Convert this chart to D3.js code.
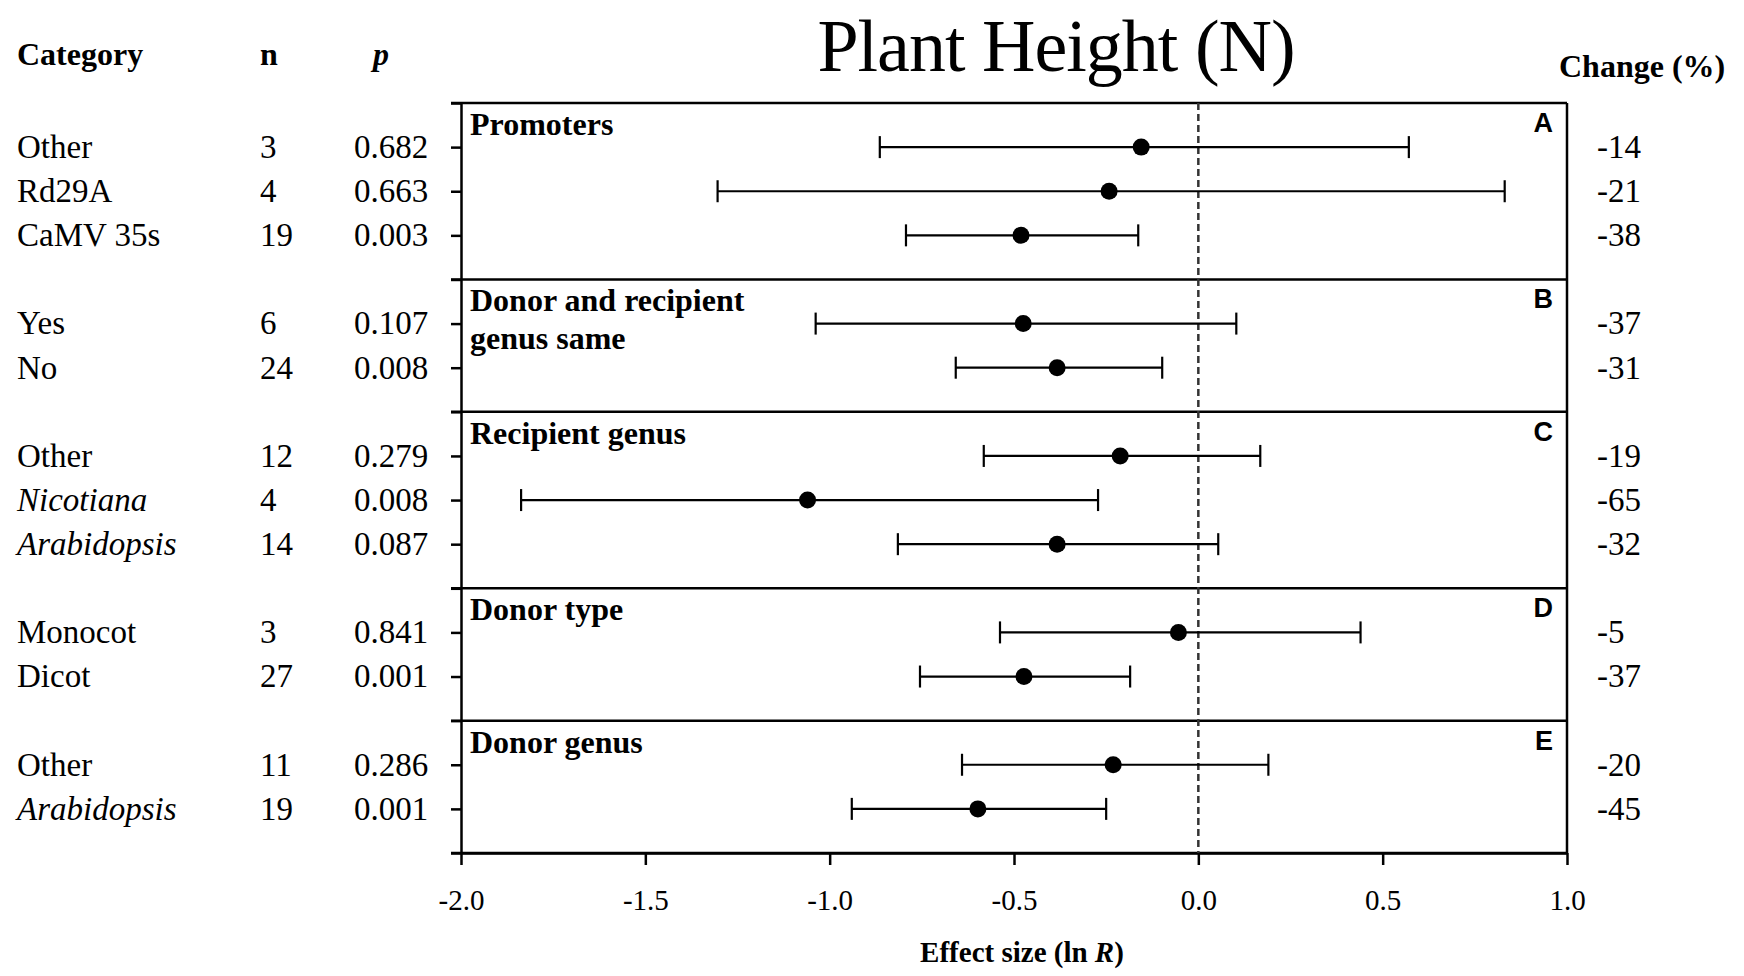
<!DOCTYPE html>
<html>
<head>
<meta charset="utf-8">
<script src="https://cdnjs.cloudflare.com/ajax/libs/d3/7.8.5/d3.min.js"></script>
<style>
  body { margin: 0; background: #fff; }
  text { font-family: "Liberation Serif", "Times New Roman", serif; fill: #000; }
</style>
</head>
<body>
<svg id="chart" width="1744" height="976"></svg>
<script>
// panels
var panelTitles = [["Promoters"], ["Donor and recipient", "genus same"], ["Recipient genus"], ["Donor type"], ["Donor genus"]];
var panelLetters = ["A", "B", "C", "D", "E"];

// rows (top to bottom)
var categories = ["Other", "Rd29A", "CaMV 35s", "Yes", "No", "Other", "Nicotiana", "Arabidopsis", "Monocot", "Dicot", "Other", "Arabidopsis"];
var italicCat = [false, false, false, false, false, false, true, true, false, false, false, true];
var panelOf = [0, 0, 0, 1, 1, 2, 2, 2, 3, 3, 4, 4];
var nValues = [3, 4, 19, 6, 24, 12, 4, 14, 3, 27, 11, 19];
var pValues = ["0.682", "0.663", "0.003", "0.107", "0.008", "0.279", "0.008", "0.087", "0.841", "0.001", "0.286", "0.001"];
var effect = [-0.155, -0.242, -0.481, -0.475, -0.383, -0.212, -1.060, -0.383, -0.054, -0.473, -0.231, -0.598];
var lower = [-0.864, -1.304, -0.793, -1.038, -0.658, -0.582, -1.837, -0.815, -0.538, -0.755, -0.641, -0.940];
var upper = [0.571, 0.831, -0.163, 0.103, -0.098, 0.168, -0.272, 0.054, 0.440, -0.185, 0.190, -0.250];
var change = [-14, -21, -38, -37, -31, -19, -65, -32, -5, -37, -20, -45];

var xTicks = [-2.0, -1.5, -1.0, -0.5, 0.0, 0.5, 1.0];

var svg = d3.select("#chart");

// row slot = index + panel number (one empty slot between panels)
var slot = categories.map(function(c, i) { return i + panelOf[i]; });
// panel borders: top of first, after last row of each panel
var borders = [-1];
panelTitles.forEach(function(t, k) {
  var last = d3.max(slot.filter(function(s, i) { return panelOf[i] === k; }));
  borders.push(last + 1);
});

var x = d3.scaleLinear().domain([-2, 1]).range([461, 1567]);
var y = d3.scaleLinear().domain([-1, d3.max(borders)]).range([103, 853]);

// title
svg.append("text")
    .attr("x", 1056).attr("y", 71)
    .attr("text-anchor", "middle")
    .style("font-size", "74px")
    .style("letter-spacing", "-1px")
    .text("Plant Height (N)");

// column headers
var head = svg.append("g").style("font-weight", "bold").style("font-size", "32px");
head.append("text").attr("x", 17).attr("y", 65).text("Category");
head.append("text").attr("x", 260).attr("y", 65).text("n");
head.append("text").attr("x", 373).attr("y", 65).style("font-style", "italic").text("p");
head.append("text").attr("x", 1559).attr("y", 77).text("Change (%)");

// left axis with ticks at rows and panel borders
var leftTicks = slot.concat(borders);
svg.append("g")
    .attr("transform", "translate(" + x(-2) + ",0)")
    .call(d3.axisLeft(y).tickValues(leftTicks).tickSize(10).tickSizeOuter(0).tickFormat(""))
    .call(function(g) {
      g.selectAll("line, path").attr("stroke", "#000").attr("stroke-width", 2.5);
    });

// bottom axis
var xAxis = svg.append("g")
    .attr("transform", "translate(0," + y(d3.max(borders)) + ")")
    .call(d3.axisBottom(x).tickValues(xTicks).tickSize(12).tickSizeOuter(0).tickPadding(24)
      .tickFormat(function(d) { return d.toFixed(1); }));
xAxis.selectAll("line, path").attr("stroke", "#000").attr("stroke-width", 2.5);
xAxis.selectAll("text")
    .style("font-family", "Liberation Serif, serif")
    .style("font-size", "29px")
    .attr("fill", "#000");

// panel border lines (extend a little left like ticks)
svg.append("g").selectAll("line")
  .data(borders)
  .join("line")
    .attr("x1", x(-2) - 10).attr("x2", x(1))
    .attr("y1", function(d) { return y(d); })
    .attr("y2", function(d) { return y(d); })
    .attr("stroke", "#000").attr("stroke-width", 2.5);

// right border
svg.append("line")
    .attr("x1", x(1)).attr("x2", x(1))
    .attr("y1", y(-1)).attr("y2", y(d3.max(borders)))
    .attr("stroke", "#000").attr("stroke-width", 2.5);

// zero reference
svg.append("line")
    .attr("x1", x(0)).attr("x2", x(0))
    .attr("y1", y(-1)).attr("y2", y(d3.max(borders)))
    .attr("stroke", "#333").attr("stroke-width", 2.5)
    .attr("stroke-dasharray", "7,4");

// panel titles and letters
panelTitles.forEach(function(lines, k) {
  var t = svg.append("text")
      .attr("x", x(-2) + 7)
      .attr("y", y(borders[k]) + 32)
      .style("font-weight", "bold").style("font-size", "32px");
  lines.forEach(function(s, j) {
    t.append("tspan").attr("x", x(-2) + 9).attr("dy", j === 0 ? 0 : 38).text(s);
  });
  svg.append("text")
      .attr("x", x(1) - 14)
      .attr("y", y(borders[k]) + 29)
      .attr("text-anchor", "end")
      .style("font-family", "Liberation Sans, Arial, sans-serif")
      .style("font-weight", "bold").style("font-size", "27px")
      .text(panelLetters[k]);
});

// error bars
var rows = svg.append("g").selectAll("g")
  .data(categories)
  .join("g")
    .attr("transform", function(d, i) { return "translate(0," + y(slot[i]) + ")"; });

rows.append("line")
    .attr("x1", function(d, i) { return x(lower[i]); })
    .attr("x2", function(d, i) { return x(upper[i]); })
    .attr("stroke", "#000").attr("stroke-width", 2.2);
rows.append("line")
    .attr("x1", function(d, i) { return x(lower[i]); })
    .attr("x2", function(d, i) { return x(lower[i]); })
    .attr("y1", -11).attr("y2", 11)
    .attr("stroke", "#000").attr("stroke-width", 2.2);
rows.append("line")
    .attr("x1", function(d, i) { return x(upper[i]); })
    .attr("x2", function(d, i) { return x(upper[i]); })
    .attr("y1", -11).attr("y2", 11)
    .attr("stroke", "#000").attr("stroke-width", 2.2);
rows.append("circle")
    .attr("cx", function(d, i) { return x(effect[i]); })
    .attr("r", 8.5)
    .attr("fill", "#000");

// table columns
rows.append("text")
    .attr("x", 17).attr("dy", "0.33em")
    .style("font-size", "33px")
    .style("font-style", function(d, i) { return italicCat[i] ? "italic" : "normal"; })
    .text(function(d) { return d; });
rows.append("text")
    .attr("x", 260).attr("dy", "0.33em")
    .style("font-size", "33px")
    .text(function(d, i) { return nValues[i]; });
rows.append("text")
    .attr("x", 354).attr("dy", "0.33em")
    .style("font-size", "33px")
    .text(function(d, i) { return pValues[i]; });
rows.append("text")
    .attr("x", 1597).attr("dy", "0.33em")
    .style("font-size", "33px")
    .text(function(d, i) { return change[i]; });

// x axis title
var xt = svg.append("text")
    .attr("x", 1022).attr("y", 962)
    .attr("text-anchor", "middle")
    .style("font-weight", "bold").style("font-size", "29px");
xt.append("tspan").text("Effect size (ln ");
xt.append("tspan").style("font-style", "italic").text("R");
xt.append("tspan").text(")");
</script>
</body>
</html>
